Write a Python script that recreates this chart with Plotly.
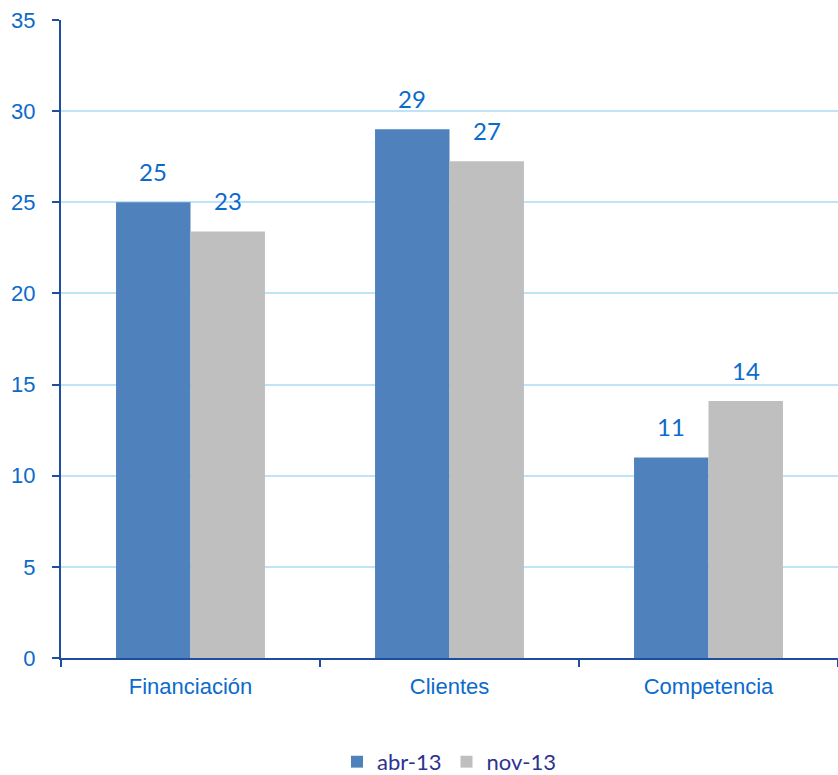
import plotly.graph_objects as go

categories = ["Financiación", "Clientes", "Competencia"]
abr_13 = [25.0, 29.0, 11.0]
nov_13 = [23.4, 27.25, 14.1]
series_names = ["abr-13", "nov-13"]
y_ticks = [0, 5, 10, 15, 20, 25, 30, 35]

AXIS = "#1F4E9F"
TICKTXT = "#0B6BCB"
LABEL = "#0B6BCB"
GRID = "#BFE4F6"
colors = ["#4F81BD", "#BFBFBF"]

fig = go.Figure()
for name, vals, col in zip(series_names, [abr_13, nov_13], colors):
    fig.add_trace(go.Bar(name=name, x=categories, y=vals, marker=dict(color=col, line=dict(width=0))))

W, H = 838, 775
ml, mr, mt, mb = 61, 0, 20, 117
bargap = 0.425
cat_w = (W - ml - mr) / len(categories)
bar_w = cat_w * (1 - bargap) / 2

annotations = []
for vals, shift in [(abr_13, -bar_w / 2), (nov_13, bar_w / 2)]:
    for c, v in zip(categories, vals):
        annotations.append(dict(x=c, y=v, xref="x", yref="y", text=f"{round(v):d}",
                                showarrow=False, xshift=shift, yanchor="bottom", yshift=14,
                                font=dict(family="Lato", size=24, color=LABEL)))

fig.update_layout(
    width=W, height=H,
    margin=dict(l=ml, r=mr, t=mt, b=mb, autoexpand=False),
    paper_bgcolor="white", plot_bgcolor="white",
    barmode="group", bargap=bargap, bargroupgap=0,
    showlegend=True,
    legend=dict(orientation="h", x=0.5, xanchor="center", yref="container", y=0.017, yanchor="middle",
                font=dict(family="Lato", size=22, color="#2E3192"), itemwidth=30,
                traceorder="normal"),
    annotations=annotations,
    xaxis=dict(showline=True, linecolor=AXIS, linewidth=2, ticks="outside", tickson="boundaries",
               ticklen=7, tickcolor=AXIS, tickwidth=2, showgrid=False, ticklabelstandoff=8,
               tickfont=dict(family="Liberation Sans", size=22, color=TICKTXT)),
    yaxis=dict(range=[0, 35], tickvals=y_ticks, showline=True, linecolor=AXIS, linewidth=2,
               ticks="outside", ticklen=7, tickcolor=AXIS, tickwidth=2, ticklabelstandoff=12,
               showgrid=True, gridcolor=GRID, gridwidth=2, zeroline=False,
               tickfont=dict(family="Liberation Sans", size=22, color=TICKTXT)),
)

fig.write_html("out.html")
